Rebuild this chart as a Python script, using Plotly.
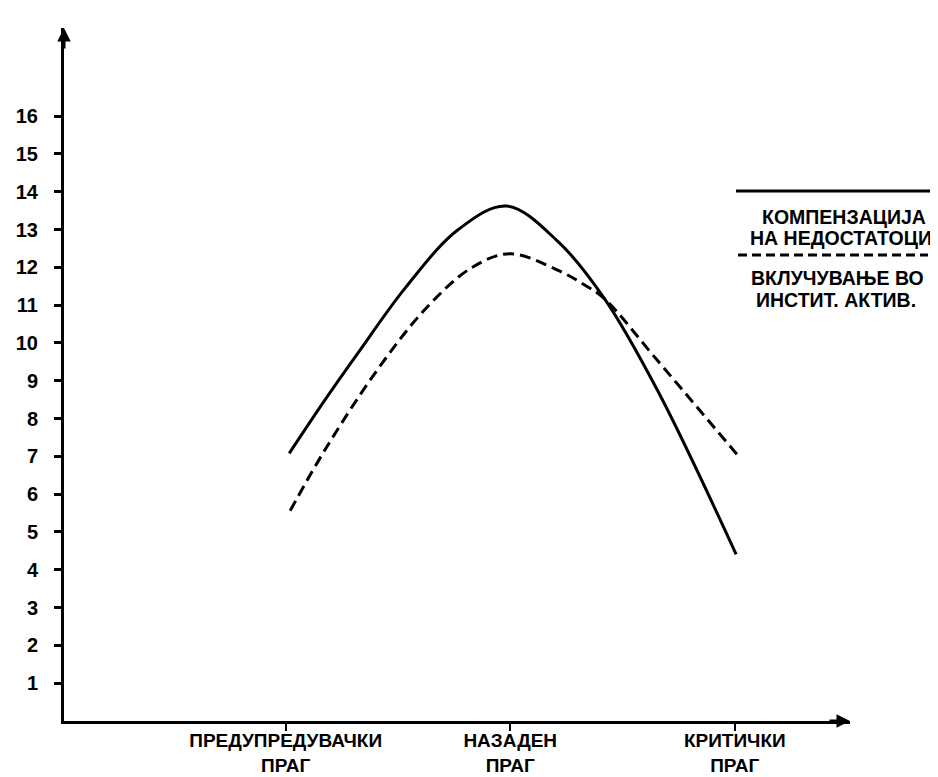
import plotly.graph_objects as go

# ---- data ----
categories = ["ПРЕДУПРЕДУВАЧКИ<br>ПРАГ", "НАЗАДЕН<br>ПРАГ", "КРИТИЧКИ<br>ПРАГ"]
category_pos = [0, 1, 2]
y_ticks = list(range(1, 17))

series1_name = ["КОМПЕНЗАЦИЈА", "НА НЕДОСТАТОЦИ"]
series1_x = [0.016, 0.176, 0.324, 0.532, 0.769, 0.984, 1.213, 1.421, 1.658, 2.006]
series1_y = [7.08, 8.50, 9.75, 11.45, 13.00, 13.62, 12.68, 11.16, 8.72, 4.41]

series2_name = ["ВКЛУЧУВАЊЕ ВО", "ИНСТИТ. АКТИВ."]
series2_x = [0.020, 0.176, 0.399, 0.621, 0.828, 0.999, 1.213, 1.335, 1.421, 1.658, 2.010]
series2_y = [5.56, 7.18, 9.21, 10.89, 11.99, 12.36, 11.92, 11.52, 11.16, 9.52, 7.05]

# ---- figure ----
W, H = 938, 777
ML, MR, MT, MB = 56, 96, 20, 64
XR = [-0.987, 2.513]
YR = [0, 18.33]
PW, PH = W - ML - MR, H - MT - MB

def px(x):
    return (x - ML) / PW

def py(y):
    return (H - MB - y) / PH

LBL = "Liberation Sans, Arial, sans-serif"

fig = go.Figure()
fig.add_trace(go.Scatter(
    x=series1_x, y=series1_y, mode="lines",
    line=dict(color="black", width=3, shape="spline", smoothing=1.0),
    showlegend=False, hoverinfo="skip"))
fig.add_trace(go.Scatter(
    x=series2_x, y=series2_y, mode="lines",
    line=dict(color="black", width=3, shape="spline", smoothing=1.0, dash="11px,6px"),
    showlegend=False, hoverinfo="skip"))

fig.update_layout(
    width=W, height=H,
    margin=dict(l=ML, r=MR, t=MT, b=MB, pad=0, autoexpand=False),
    paper_bgcolor="white", plot_bgcolor="white",
    showlegend=False,
    xaxis=dict(range=XR, showgrid=False, zeroline=False, automargin=False,
               showline=True, linecolor="black", linewidth=3,
               tickmode="array", tickvals=category_pos,
               ticktext=["<b>" + c.replace("<br>", "</b><br><b>") + "</b>" for c in categories],
               ticks="outside", ticklen=7, tickwidth=2, tickcolor="black",
               tickfont=dict(family=LBL, size=19, color="black"),
               ticklabelstandoff=-7),
    yaxis=dict(range=YR, showgrid=False, zeroline=False, automargin=False,
               showline=True, linecolor="black", linewidth=3,
               tickmode="array", tickvals=y_ticks, ticktext=[str(v) for v in y_ticks],
               ticks="outside", ticklen=7, tickwidth=2.5, tickcolor="black",
               tickfont=dict(family=LBL, size=20, color="black", weight="bold"),
               ticklabelstandoff=12),
)

# axis arrowheads
fig.add_annotation(x=XR[0], y=YR[1], xref="x", yref="y", text="", showarrow=True,
                   ax=0, ay=22, arrowhead=2, arrowsize=0.9, arrowwidth=3, arrowcolor="black")
fig.add_annotation(x=XR[1], y=0, xref="x", yref="y", text="", showarrow=True,
                   ax=-22, ay=0, arrowhead=2, arrowsize=0.9, arrowwidth=3, arrowcolor="black")

# legend (drawn at right)
fig.add_shape(type="line", xref="paper", yref="paper", x0=px(728), x1=px(924),
              y0=py(183), y1=py(183), line=dict(color="black", width=3))
fig.add_shape(type="line", xref="paper", yref="paper", x0=px(730), x1=px(920),
              y0=py(247), y1=py(247), line=dict(color="black", width=3, dash="9px,5px"))

legend_rows = [(series1_name[0], 836, 209), (series1_name[1], 833, 230),
               (series2_name[0], 829, 270), (series2_name[1], 828, 292)]
for txt, cx, cy in legend_rows:
    fig.add_annotation(x=px(cx), y=py(cy), xref="paper", yref="paper",
                       text="<b>" + txt + "</b>", showarrow=False,
                       xanchor="center", yanchor="middle",
                       font=dict(family=LBL, size=19.5, color="black"))

fig.write_html("out.html")
